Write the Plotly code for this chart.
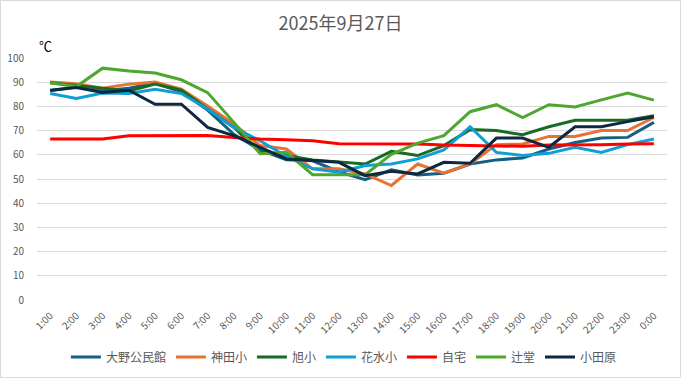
import plotly.graph_objects as go

hours = ["1:00", "2:00", "3:00", "4:00", "5:00", "6:00", "7:00", "8:00", "9:00", "10:00",
         "11:00", "12:00", "13:00", "14:00", "15:00", "16:00", "17:00", "18:00", "19:00",
         "20:00", "21:00", "22:00", "23:00", "0:00"]

ohno = [86.5, 88.0, 86.5, 87.5, 89.5, 86.0, 78.5, 68.5, 62.0, 58.0, 57.5, 53.0,
        49.7, 53.8, 51.7, 52.4, 56.2, 57.9, 58.7, 62.4, 65.1, 66.9, 67.2, 73.4]
kanda = [90.1, 89.4, 87.5, 89.2, 90.1, 87.1, 80.2, 72.7, 63.8, 62.4, 54.2, 54.2,
         52.1, 47.3, 56.2, 52.4, 56.2, 64.2, 64.5, 67.6, 67.6, 70.0, 70.0, 75.4]
asahi = [89.8, 88.7, 87.8, 86.4, 89.2, 86.7, 78.9, 71.3, 61.0, 59.7, 57.9, 56.9,
         56.2, 61.4, 59.7, 63.8, 70.4, 70.0, 68.3, 71.6, 74.3, 74.3, 74.3, 76.1]
hanamizu = [85.3, 83.3, 85.5, 85.3, 87.1, 85.3, 78.9, 71.3, 65.8, 59.3, 54.2, 52.8,
            55.6, 56.2, 58.3, 62.0, 71.6, 61.0, 59.7, 60.6, 63.1, 61.0, 64.2, 66.5]
jitaku = [66.5, 66.5, 66.5, 67.9, 68.0, 68.0, 68.0, 67.2, 66.5, 66.2, 65.8, 64.6,
          64.6, 64.5, 64.5, 64.0, 63.8, 63.5, 63.5, 64.0, 64.0, 64.2, 64.5, 64.6]
tsujido = [89.8, 88.2, 95.8, 94.6, 93.8, 91.0, 85.7, 73.4, 60.4, 61.0, 51.8, 51.8,
           51.8, 60.2, 64.8, 67.9, 77.8, 80.7, 75.4, 80.7, 79.8, 82.7, 85.5, 82.6]
odawara = [86.7, 87.8, 85.7, 86.7, 80.9, 80.9, 71.3, 67.9, 63.1, 58.3, 57.6, 56.9,
           51.4, 53.2, 52.1, 56.9, 56.5, 66.9, 66.9, 63.1, 71.6, 71.6, 73.7, 75.7]

series = [
    ("大野公民館", ohno, "#156082"),
    ("神田小", kanda, "#E97132"),
    ("旭小", asahi, "#196B24"),
    ("花水小", hanamizu, "#0F9ED5"),
    ("自宅", jitaku, "#FF0000"),
    ("辻堂", tsujido, "#4EA72E"),
    ("小田原", odawara, "#0E2841"),
]

FONT = "Noto Sans CJK JP"
W, H = 681, 378
L, R, T, B = 37, 14, 58, 78
PW, PH = W - L - R, H - T - B

fig = go.Figure()
for name, vals, color in series:
    fig.add_trace(go.Scatter(x=hours, y=vals, name=name, mode="lines",
                             line=dict(color=color, width=3)))

fig.update_layout(
    width=W, height=H,
    margin=dict(l=L, r=R, t=T, b=B, autoexpand=False),
    paper_bgcolor="white", plot_bgcolor="white",
    font=dict(family=FONT, color="#595959", size=10),
    title=dict(text="2025年9月27日", x=0.5, xanchor="center", xref="container",
               y=1 - 24 / H, yanchor="middle", yref="container",
               font=dict(family=FONT, size=18, color="#595959")),
    showlegend=True,
    legend=dict(orientation="h", x=0.505, xanchor="center", xref="container",
                y=(H - 357) / H, yanchor="middle", yref="container",
                font=dict(family=FONT, size=12, color="#595959"),
                itemwidth=30, tracegroupgap=0),
    xaxis=dict(type="category", range=[-0.5, 23.5], tickangle=-45, showgrid=False,
               showline=False, ticks="", automargin=False, ticklabelstandoff=7,
               tickfont=dict(size=10, color="#595959")),
    yaxis=dict(range=[0, 100], dtick=10, showgrid=True, gridcolor="#D9D9D9", gridwidth=1,
               zeroline=False, showline=False, ticks="", automargin=False,
               ticklabelstandoff=12,
               tickfont=dict(size=10, color="#595959")),
    annotations=[dict(text="℃", xref="paper", yref="paper", x=0.0, y=1.0, xanchor="left",
                      yanchor="bottom", showarrow=False, yshift=1,
                      font=dict(family=FONT, size=13, color="#000000"))],
    shapes=[dict(type="rect", xref="paper", yref="paper",
                 x0=(0.5 - L) / PW, x1=(W - 0.5 - L) / PW,
                 y0=-(B - 0.5) / PH, y1=1 + (T - 0.5) / PH,
                 line=dict(color="#D9D9D9", width=1), fillcolor="rgba(0,0,0,0)", layer="below")],
)

fig.write_html("out.html", config={"displayModeBar": False},
               post_script="document.body.style.margin='0';document.body.style.overflow='hidden';")
